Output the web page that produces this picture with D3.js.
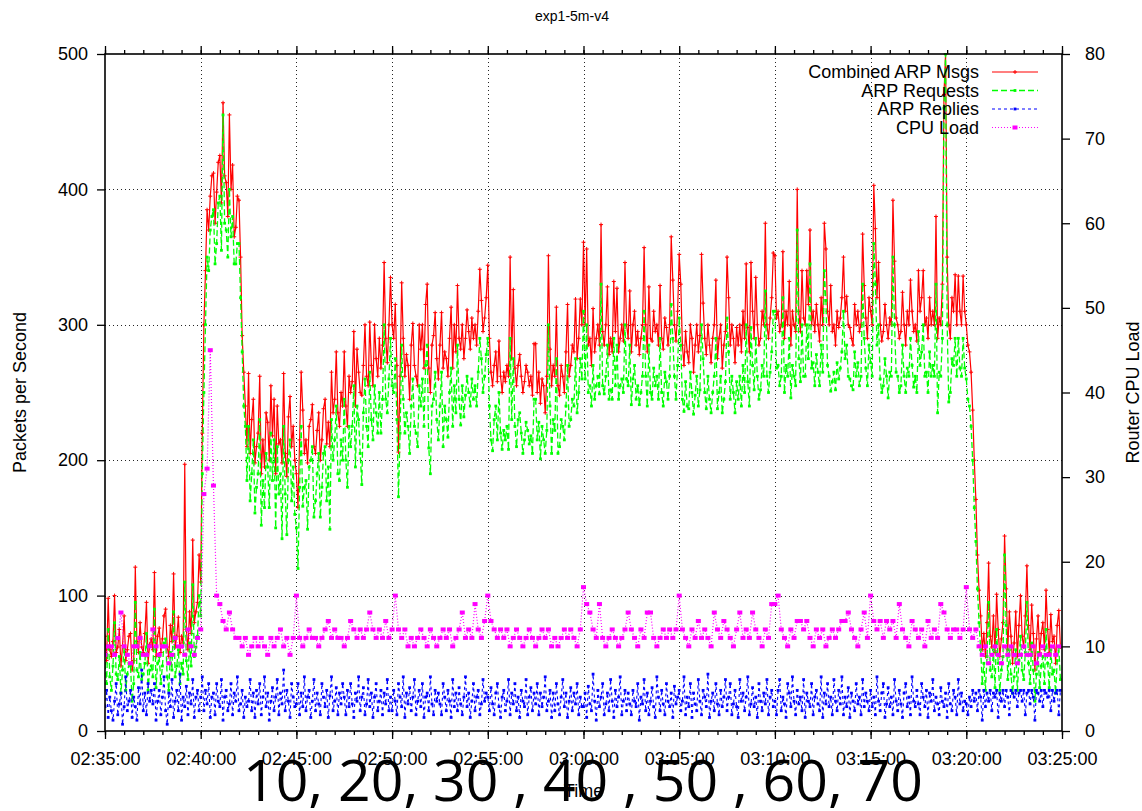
<!DOCTYPE html>
<html>
<head>
<meta charset="utf-8">
<script src="https://cdn.jsdelivr.net/npm/d3@7"></script>
<style>
  body { margin: 0; background: #fff; }
  svg { display: block; }
  text { font-family: "Liberation Sans", Arial, Helvetica, sans-serif; fill: #000; }
</style>
</head>
<body>
<svg id="chart" width="1142" height="811"></svg>
<script>
// ---------------- data ----------------
const chartTitle = "exp1-5m-v4";
const startTime = new Date(2000, 0, 1, 2, 35, 0);
const endTime = new Date(2000, 0, 1, 3, 25, 0);
const packetStepSeconds = 5;   // one packet-rate value every 5 s
const cpuStepSeconds = 10;     // one CPU value every 10 s

// Combined ARP Msgs (packets / s), one row = 2.5 min
const combined = [
  70, 52, 98, 60, 55, 66, 100, 58, 62, 75, 48, 63, 85, 52, 60, 70, 72, 45, 52, 121, 66, 58, 80, 62, 58, 72, 95, 50, 64, 68,
  60, 117, 55, 70, 76, 58, 68, 85, 90, 62, 55, 78, 66, 116, 62, 70, 84, 58, 70, 65, 197, 75, 60, 88, 72, 141, 80, 88, 95, 130,
  110, 220, 300, 340, 385, 370, 395, 410, 412, 375, 398, 420, 425, 390, 464, 410, 405, 380, 455, 400, 418, 365, 372, 395, 392, 350, 292, 265, 240, 210,
  264, 205, 230, 245, 198, 210, 220, 262, 190, 215, 195, 235, 228, 200, 255, 218, 245, 190, 240, 212, 215, 198, 264, 205, 188, 232, 247, 210, 225, 200,
  190, 165, 215, 265, 237, 205, 215, 198, 225, 230, 241, 210, 205, 222, 235, 200, 215, 238, 245, 212, 228, 210, 265, 235, 245, 280, 235, 225, 250, 240,
  280, 240, 225, 262, 250, 258, 295, 240, 282, 265, 250, 248, 270, 300, 262, 255, 302, 270, 255, 300, 275, 262, 290, 268, 285, 346, 290, 272, 300, 335,
  300, 290, 315, 270, 206, 262, 331, 290, 262, 278, 270, 245, 285, 301, 270, 262, 255, 300, 282, 300, 268, 315, 330, 268, 250, 285, 292, 309, 275, 260,
  285, 309, 268, 280, 275, 262, 290, 313, 268, 300, 280, 329, 290, 282, 300, 275, 290, 311, 295, 282, 305, 290, 300, 285, 310, 341, 318, 295, 305, 320,
  344, 290, 265, 255, 270, 280, 258, 288, 262, 250, 265, 258, 270, 262, 350, 275, 326, 268, 255, 270, 278, 262, 250, 258, 270, 265, 255, 262, 248, 286,
  286, 250, 265, 242, 260, 255, 235, 262, 351, 282, 255, 270, 262, 313, 255, 248, 270, 262, 250, 280, 315, 262, 270, 285, 280, 319, 275, 290, 319, 300,
  361, 300, 356, 285, 290, 270, 312, 280, 290, 300, 285, 374, 295, 285, 300, 328, 278, 290, 280, 332, 295, 327, 280, 290, 300, 288, 346, 300, 290, 325,
  280, 300, 310, 285, 295, 278, 290, 300, 357, 300, 280, 328, 290, 288, 310, 295, 300, 285, 329, 290, 282, 305, 298, 285, 300, 365, 333, 300, 288, 310,
  352, 330, 285, 270, 295, 280, 272, 300, 290, 265, 285, 300, 280, 292, 352, 316, 290, 278, 300, 285, 272, 290, 300, 333, 275, 290, 300, 268, 285, 295,
  350, 320, 285, 300, 290, 272, 298, 285, 300, 280, 310, 290, 345, 298, 280, 346, 310, 290, 335, 300, 285, 290, 310, 300, 375, 300, 290, 305, 320, 353,
  351, 305, 310, 295, 300, 354, 290, 310, 300, 332, 285, 310, 300, 295, 400, 310, 295, 340, 305, 300, 340, 315, 370, 300, 310, 295, 315, 300, 288, 320,
  300, 375, 356, 310, 300, 329, 295, 300, 285, 310, 298, 305, 320, 350, 310, 321, 300, 298, 290, 285, 315, 300, 310, 295, 300, 367, 329, 305, 290, 320,
  310, 300, 403, 371, 320, 346, 300, 288, 295, 315, 300, 290, 305, 300, 392, 347, 305, 300, 290, 295, 324, 300, 285, 310, 300, 333, 310, 295, 300, 288,
  340, 310, 320, 340, 300, 305, 290, 320, 300, 310, 300, 380, 290, 305, 300, 330, 470, 500, 350, 300, 290, 320, 310, 337, 300, 336, 310, 300, 336, 310,
  300, 285, 280, 265, 237, 200, 171, 130, 104, 85, 60, 72, 55, 80, 124, 70, 62, 85, 58, 101, 75, 55, 68, 80, 144, 105, 60, 88, 70, 50,
  65, 88, 55, 78, 100, 70, 62, 85, 122, 78, 60, 93, 72, 45, 68, 85, 58, 72, 80, 60, 104, 75, 58, 86, 66, 70, 50, 78, 89, 62
];

// ARP Requests (packets / s)
const requests = [
  50, 35, 75, 40, 30, 48, 80, 42, 38, 55, 28, 45, 62, 30, 42, 50, 48, 22, 35, 95, 45, 40, 58, 38, 42, 50, 72, 30, 45, 48,
  40, 90, 32, 50, 55, 35, 48, 65, 68, 40, 30, 58, 45, 88, 40, 48, 60, 35, 50, 42, 110, 52, 38, 65, 48, 108, 55, 62, 70, 100,
  85, 190, 250, 300, 350, 340, 370, 380, 385, 345, 360, 390, 395, 355, 455, 375, 370, 350, 400, 365, 380, 345, 345, 360, 360, 320, 280, 240, 225, 185,
  225, 170, 190, 215, 161, 180, 190, 230, 152, 185, 165, 205, 195, 165, 220, 185, 215, 150, 210, 175, 190, 142, 225, 175, 145, 200, 215, 170, 195, 160,
  150, 120, 180, 225, 166, 180, 185, 149, 195, 200, 210, 158, 170, 190, 205, 158, 180, 205, 210, 170, 195, 149, 230, 200, 215, 240, 190, 185, 215, 200,
  245, 200, 180, 225, 210, 225, 255, 195, 240, 230, 205, 182, 235, 260, 225, 210, 265, 230, 215, 255, 235, 220, 250, 220, 245, 300, 245, 235, 260, 290,
  255, 250, 275, 230, 173, 220, 285, 245, 220, 235, 225, 205, 240, 260, 225, 220, 210, 255, 240, 260, 225, 270, 285, 209, 190, 240, 245, 265, 230, 215,
  240, 265, 210, 240, 230, 217, 250, 268, 225, 255, 235, 285, 245, 226, 255, 232, 248, 262, 250, 240, 260, 245, 255, 240, 265, 290, 275, 250, 262, 278,
  290, 240, 215, 207, 230, 240, 215, 250, 220, 208, 222, 215, 225, 208, 290, 230, 275, 225, 210, 230, 235, 220, 205, 215, 228, 222, 212, 218, 205, 245,
  245, 215, 228, 201, 225, 215, 205, 222, 300, 240, 205, 230, 222, 275, 205, 210, 230, 225, 215, 240, 270, 225, 230, 245, 240, 275, 235, 250, 275, 260,
  310, 260, 300, 250, 255, 240, 270, 245, 255, 262, 249, 330, 255, 249, 262, 285, 245, 252, 245, 290, 255, 285, 245, 255, 260, 250, 300, 260, 255, 285,
  241, 260, 270, 245, 255, 241, 250, 262, 310, 262, 240, 285, 250, 245, 268, 255, 262, 245, 290, 250, 240, 265, 258, 245, 262, 315, 290, 262, 245, 270,
  305, 285, 245, 236, 258, 240, 238, 265, 250, 234, 248, 262, 240, 252, 300, 275, 250, 238, 262, 245, 235, 250, 262, 290, 238, 250, 262, 235, 245, 258,
  305, 280, 245, 262, 250, 235, 258, 245, 262, 240, 270, 250, 300, 258, 240, 298, 270, 252, 290, 262, 245, 252, 270, 262, 325, 262, 250, 265, 280, 310,
  310, 268, 270, 255, 262, 320, 250, 270, 262, 290, 246, 270, 262, 255, 370, 275, 258, 300, 262, 262, 300, 275, 345, 268, 272, 255, 278, 265, 255, 285,
  265, 340, 318, 270, 262, 251, 258, 265, 252, 272, 260, 268, 280, 310, 275, 285, 262, 260, 255, 252, 280, 262, 272, 255, 262, 330, 290, 268, 255, 285,
  272, 262, 360, 330, 285, 300, 260, 250, 255, 275, 262, 246, 265, 262, 350, 300, 265, 262, 250, 255, 285, 262, 250, 268, 262, 290, 270, 254, 262, 250,
  295, 270, 280, 300, 262, 265, 250, 280, 262, 270, 262, 330, 235, 265, 262, 290, 460, 500, 300, 243, 250, 275, 270, 290, 262, 290, 268, 262, 290, 268,
  260, 245, 240, 225, 200, 165, 140, 105, 80, 60, 35, 50, 30, 55, 95, 45, 40, 60, 32, 75, 50, 30, 45, 55, 130, 78, 38, 60, 42, 28,
  40, 60, 30, 52, 70, 45, 38, 58, 95, 50, 35, 65, 45, 22, 42, 58, 32, 48, 55, 35, 75, 50, 32, 60, 42, 45, 28, 52, 62, 38
];

// ARP Replies (packets / s)
const replies = [
  18, 30, 10, 25, 15, 8, 22, 35, 12, 20, 28, 5, 18, 40, 15, 22, 30, 10, 25, 18, 8, 32, 20, 45, 15, 28, 12, 35, 22, 30,
  20, 35, 8, 22, 30, 12, 25, 40, 15, 5, 28, 18, 38, 10, 22, 30, 15, 42, 8, 25, 18, 33, 12, 28, 20, 38, 10, 25, 30, 15,
  25, 40, 15, 30, 20, 35, 10, 25, 28, 12, 35, 22, 18, 38, 8, 25, 30, 15, 20, 35, 12, 28, 22, 40, 15, 20, 30, 10, 25, 18,
  22, 38, 15, 28, 10, 30, 20, 35, 12, 25, 40, 18, 28, 8, 22, 32, 15, 25, 38, 12, 28, 20, 45, 15, 30, 22, 10, 35, 25, 18,
  20, 35, 12, 28, 18, 40, 15, 25, 30, 10, 22, 38, 15, 28, 20, 12, 35, 25, 18, 30, 10, 26, 40, 15, 22, 32, 12, 28, 20, 35,
  25, 12, 30, 18, 35, 20, 10, 28, 22, 40, 15, 25, 32, 12, 20, 38, 18, 28, 10, 25, 35, 15, 22, 30, 12, 28, 20, 38, 15, 25,
  15, 30, 22, 12, 35, 25, 18, 40, 10, 28, 20, 32, 15, 25, 38, 12, 22, 30, 18, 35, 10, 25, 28, 15, 40, 20, 12, 30, 22, 28,
  20, 12, 35, 25, 15, 30, 22, 10, 38, 18, 28, 15, 32, 20, 12, 25, 40, 18, 28, 10, 22, 35, 15, 25, 30, 12, 20, 38, 22, 28,
  25, 15, 32, 20, 12, 28, 35, 18, 10, 25, 30, 15, 22, 38, 12, 28, 20, 35, 15, 25, 10, 30, 22, 18, 38, 12, 25, 32, 15, 28,
  20, 35, 12, 28, 18, 25, 40, 15, 22, 30, 10, 28, 15, 35, 20, 12, 25, 38, 18, 28, 10, 22, 32, 15, 28, 20, 35, 12, 25, 18,
  18, 28, 10, 33, 20, 15, 42, 22, 8, 30, 18, 25, 35, 12, 20, 28, 15, 38, 22, 10, 30, 18, 25, 40, 12, 22, 30, 15, 28, 20,
  12, 30, 22, 18, 35, 8, 25, 20, 38, 15, 28, 12, 22, 32, 18, 10, 40, 25, 15, 30, 20, 12, 35, 22, 18, 28, 10, 33, 20, 25,
  30, 15, 22, 40, 12, 25, 18, 35, 10, 28, 20, 15, 38, 22, 12, 30, 25, 18, 42, 10, 22, 28, 15, 35, 20, 12, 30, 18, 25, 38,
  15, 25, 35, 12, 20, 30, 18, 10, 38, 22, 28, 15, 25, 40, 12, 20, 32, 18, 25, 10, 35, 22, 15, 28, 20, 38, 12, 25, 30, 18,
  22, 12, 30, 38, 15, 25, 20, 10, 35, 28, 18, 40, 22, 12, 30, 20, 25, 15, 38, 10, 28, 22, 18, 35, 12, 25, 30, 20, 15, 40,
  10, 28, 20, 35, 18, 25, 12, 38, 22, 15, 30, 20, 40, 12, 25, 18, 32, 10, 28, 22, 15, 35, 20, 25, 12, 38, 18, 28, 22, 15,
  30, 18, 25, 12, 40, 22, 15, 28, 35, 10, 20, 32, 18, 25, 12, 38, 22, 15, 30, 20, 10, 28, 35, 18, 25, 12, 40, 22, 18, 30,
  20, 12, 35, 25, 18, 30, 10, 28, 22, 38, 15, 25, 20, 12, 32, 22, 18, 28, 10, 35, 20, 15, 30, 25, 12, 38, 20, 28, 15, 22,
  20, 12, 25, 18, 30, 22, 28, 15, 30, 25, 8, 30, 18, 28, 22, 30, 15, 28, 25, 30, 10, 28, 22, 30, 18, 30, 25, 12, 30, 28,
  25, 30, 18, 28, 30, 22, 30, 12, 28, 30, 20, 30, 25, 8, 30, 28, 22, 30, 18, 30, 28, 25, 30, 15, 30, 22, 28, 30, 12, 30
];

// Router CPU Load (right axis), one row = 5 min
const cpuLoad = [
  9, 10, 10, 9, 11, 14, 10, 9, 8, 10, 10, 11, 9, 9, 10, 12, 10, 9, 10, 10, 8, 9, 11, 10, 10, 9, 12, 10, 9, 11,
  12, 28, 31, 45, 29, 16, 15, 13, 12, 14, 12, 11, 11, 10, 11, 9, 10, 11, 10, 11, 10, 9, 11, 10, 11, 12, 10, 11, 9, 11,
  16, 11, 10, 11, 12, 11, 11, 10, 11, 12, 13, 11, 12, 11, 11, 10, 11, 13, 12, 11, 12, 11, 12, 14, 12, 11, 12, 11, 13, 11,
  12, 16, 12, 11, 12, 10, 11, 10, 11, 12, 11, 10, 12, 11, 10, 11, 12, 11, 12, 10, 11, 12, 14, 11, 12, 11, 15, 12, 11, 13,
  16, 13, 12, 11, 12, 11, 12, 10, 11, 12, 11, 10, 11, 12, 11, 10, 11, 12, 11, 12, 10, 11, 10, 11, 12, 11, 12, 11, 10, 12,
  17, 15, 14, 12, 11, 15, 11, 10, 11, 12, 11, 10, 11, 12, 14, 12, 11, 10, 12, 11, 14, 14, 11, 10, 11, 12, 11, 12, 11, 12,
  16, 12, 11, 10, 12, 11, 13, 11, 12, 11, 10, 14, 12, 11, 13, 12, 11, 10, 12, 14, 11, 12, 11, 14, 12, 11, 10, 12, 11, 15,
  15, 16, 12, 11, 10, 12, 11, 13, 13, 12, 13, 11, 10, 12, 11, 12, 10, 11, 12, 11, 12, 13, 13, 14, 12, 11, 10, 12, 14, 11,
  16, 13, 12, 13, 11, 13, 12, 13, 11, 15, 12, 11, 10, 13, 12, 11, 12, 10, 13, 11, 12, 11, 15, 14, 12, 11, 12, 12, 11, 12,
  17, 12, 11, 12, 10, 9, 10, 8, 9, 10, 9, 8, 10, 9, 10, 9, 8, 9, 10, 9, 9, 10, 8, 9, 10, 9, 9, 10, 9, 10
];

const leftTicks = [0, 100, 200, 300, 400, 500];
const rightTicks = [0, 10, 20, 30, 40, 50, 60, 70, 80];
const xTickLabels = ["02:35:00", "02:40:00", "02:45:00", "02:50:00", "02:55:00", "03:00:00",
                     "03:05:00", "03:10:00", "03:15:00", "03:20:00", "03:25:00"];
const legendLabels = ["Combined ARP Msgs", "ARP Requests", "ARP Replies", "CPU Load"];
const leftAxisTitle = "Packets per Second";
const rightAxisTitle = "Router CPU Load";
const xAxisTitle = "Time";
const overlayText = "10, 20, 30 , 40 , 50 , 60, 70";

// ---------------- drawing ----------------
const L = 105, R = 1062, T = 54, B = 731;
const svg = d3.select("#chart");

const parseClock = d3.timeParse("%H:%M:%S");
const toDay = s => { const p = parseClock(s); return new Date(2000, 0, 1, p.getHours(), p.getMinutes(), p.getSeconds()); };
const xTickDates = xTickLabels.map(toDay);
const packetTimes = combined.map((_, i) => d3.timeSecond.offset(startTime, i * packetStepSeconds));
const cpuTimes = cpuLoad.map((_, i) => d3.timeSecond.offset(startTime, i * cpuStepSeconds));

const x = d3.scaleTime().domain([startTime, endTime]).range([L, R]);
const y = d3.scaleLinear().domain([0, 500]).range([B, T]);
const y2 = d3.scaleLinear().domain([0, 80]).range([B, T]);

// grid
const grid = svg.append("g").attr("stroke", "#000").attr("stroke-width", 1)
  .attr("stroke-dasharray", "1,3").attr("opacity", 0.85);
xTickDates.slice(1, -1).forEach(d => {
  grid.append("line").attr("x1", Math.round(x(d)) + 0.5).attr("x2", Math.round(x(d)) + 0.5)
    .attr("y1", T).attr("y2", B);
});
leftTicks.slice(1, -1).forEach(v => {
  grid.append("line").attr("x1", L).attr("x2", R)
    .attr("y1", Math.round(y(v)) + 0.5).attr("y2", Math.round(y(v)) + 0.5);
});

// axes
function styleAxis(g) {
  g.select(".domain").remove();
  g.selectAll(".tick line").attr("stroke", "#000").attr("stroke-width", 1.3);
  g.selectAll(".tick text").style("font-size", "18px").style("font-family", '"Liberation Sans", Arial, sans-serif').attr("fill", "#000");
}
const fmt = d3.timeFormat("%H:%M:%S");
svg.append("g").attr("transform", `translate(0,${B})`)
  .call(d3.axisBottom(x).ticks(d3.timeMinute.every(1)).tickSize(4).tickFormat(""))
  .call(styleAxis);
svg.append("g").attr("transform", `translate(0,${B})`)
  .call(d3.axisBottom(x).tickValues(xTickDates).tickSize(8).tickPadding(13).tickFormat(fmt))
  .call(styleAxis);
svg.append("g").attr("transform", `translate(0,${T})`)
  .call(d3.axisTop(x).ticks(d3.timeMinute.every(1)).tickSize(4).tickFormat(""))
  .call(styleAxis);
svg.append("g").attr("transform", `translate(0,${T})`)
  .call(d3.axisTop(x).tickValues(xTickDates).tickSize(8).tickFormat(""))
  .call(styleAxis);
svg.append("g").attr("transform", `translate(${L},0)`)
  .call(d3.axisLeft(y).tickValues(leftTicks).tickSize(8).tickPadding(9))
  .call(styleAxis);
svg.append("g").attr("transform", `translate(${R},0)`)
  .call(d3.axisRight(y2).tickValues(rightTicks).tickSize(8).tickPadding(15))
  .call(styleAxis);

// clip
svg.append("clipPath").attr("id", "plotclip").append("rect")
  .attr("x", L).attr("y", T - 1).attr("width", R - L).attr("height", B - T + 1);

const series = [
  { name: legendLabels[0], values: combined, times: packetTimes, scale: y, color: "#ff0000", dash: null, width: 1.2, mark: "plus" },
  { name: legendLabels[1], values: requests, times: packetTimes, scale: y, color: "#00ff00", dash: "6,3", width: 1.3, mark: "cross" },
  { name: legendLabels[2], values: replies, times: packetTimes, scale: y, color: "#0000ff", dash: "3,3", width: 1.1, mark: "dot" },
  { name: legendLabels[3], values: cpuLoad, times: cpuTimes, scale: y2, color: "#ff00ff", dash: "1,2", width: 1.2, mark: "box" }
];

const plot = svg.append("g").attr("clip-path", "url(#plotclip)");

function drawMark(g, mark, cx, cy, color) {
  if (mark === "plus") {
    g.append("path").attr("d", `M${cx - 2},${cy}H${cx + 2}M${cx},${cy - 2}V${cy + 2}`)
      .attr("stroke", color).attr("stroke-width", 1).attr("fill", "none");
  } else if (mark === "cross" || mark === "dot") {
    g.append("rect").attr("x", cx - 1.4).attr("y", cy - 1.4).attr("width", 2.8).attr("height", 2.8).attr("fill", color);
  } else {
    g.append("rect").attr("x", cx - 2.5).attr("y", cy - 2).attr("width", 5).attr("height", 4).attr("fill", color);
  }
}

series.forEach(s => {
  const line = d3.line().x((d, i) => x(s.times[i])).y(d => s.scale(d));
  const g = plot.append("g");
  g.append("path").datum(s.values).attr("d", line)
    .attr("fill", "none").attr("stroke", s.color).attr("stroke-width", s.width)
    .attr("stroke-dasharray", s.dash).attr("stroke-linejoin", "miter");
  const pg = g.append("g");
  s.values.forEach((v, i) => drawMark(pg, s.mark, x(s.times[i]), s.scale(v), s.color));
});

// border
svg.append("rect").attr("x", L).attr("y", T).attr("width", R - L).attr("height", B - T)
  .attr("fill", "none").attr("stroke", "#000").attr("stroke-width", 1.6);

// legend
const legendRowsY = [72, 90.5, 109, 127.5];
const leg = svg.append("g");
series.forEach((s, i) => {
  const yy = legendRowsY[i];
  leg.append("text").attr("x", 979).attr("y", yy).attr("dy", "0.35em")
    .attr("text-anchor", "end").style("font-size", "18px").text(s.name);
  leg.append("line").attr("x1", 992).attr("x2", 1038).attr("y1", yy).attr("y2", yy)
    .attr("stroke", s.color).attr("stroke-width", s.width).attr("stroke-dasharray", s.dash);
  drawMark(leg, s.mark, 1015, yy, s.color);
});

// titles
svg.append("text").attr("x", 572).attr("y", 21).attr("text-anchor", "middle")
  .style("font-size", "14px").text(chartTitle);
svg.append("text").attr("transform", `translate(26,${(T + B) / 2}) rotate(-90)`)
  .attr("text-anchor", "middle").style("font-size", "18px").text(leftAxisTitle);
svg.append("text").attr("transform", `translate(1139,${(T + B) / 2}) rotate(-90)`)
  .attr("text-anchor", "middle").style("font-size", "18px").text(rightAxisTitle);
svg.append("text").attr("x", (L + R) / 2).attr("y", 797).attr("text-anchor", "middle")
  .style("font-size", "18px").text(xAxisTitle);

// big overlay text
svg.append("text").attr("x", 243).attr("y", 801)
  .attr("textLength", 680).attr("lengthAdjust", "spacingAndGlyphs")
  .style("font-family", '"Open Sans", "Noto Sans", sans-serif').style("font-size", "56px")
  .text(overlayText);
</script>
</body>
</html>
